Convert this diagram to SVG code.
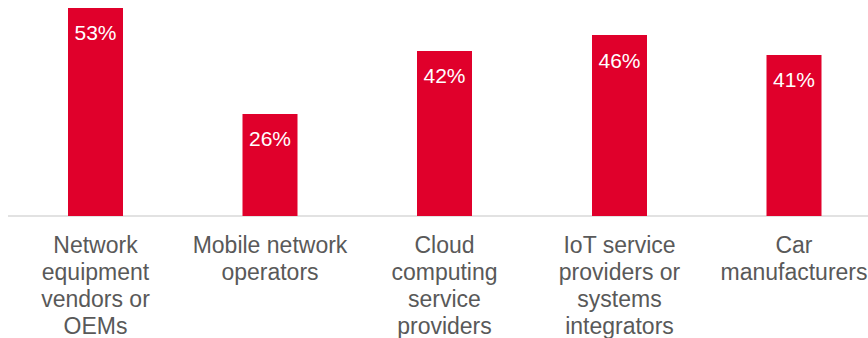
<svg xmlns="http://www.w3.org/2000/svg" width="868" height="338" viewBox="0 0 868 338">
<style>
.bar{fill:#E0002B}
.val{font-family:"Liberation Sans",Arial,sans-serif;font-size:21px;fill:#fff;text-anchor:middle}
.lab{font-family:"Liberation Sans",Arial,sans-serif;font-size:23px;fill:#595959;text-anchor:middle}
</style>
<rect width="868" height="338" fill="#fff"/>
<g id="axis"><line x1="8" y1="216" x2="868" y2="216" stroke="#D9D9D9" stroke-width="1.5"/></g>
<g id="bar1"><rect class="bar" x="68" y="8" width="55" height="208"/><text class="val" x="95.5" y="40">53%</text>
<text class="lab" x="95.5" y="253">Network</text><text class="lab" x="95.5" y="280">equipment</text><text class="lab" x="95.5" y="307">vendors or</text><text class="lab" x="95.5" y="334">OEMs</text></g>
<g id="bar2"><rect class="bar" x="242.5" y="114" width="55" height="102"/><text class="val" x="270" y="146">26%</text>
<text class="lab" x="270" y="253">Mobile network</text><text class="lab" x="270" y="280">operators</text></g>
<g id="bar3"><rect class="bar" x="417" y="51" width="55" height="165"/><text class="val" x="444.5" y="83">42%</text>
<text class="lab" x="444.5" y="253">Cloud</text><text class="lab" x="444.5" y="280">computing</text><text class="lab" x="444.5" y="307">service</text><text class="lab" x="444.5" y="334">providers</text></g>
<g id="bar4"><rect class="bar" x="592" y="35" width="55" height="181"/><text class="val" x="619.5" y="68">46%</text>
<text class="lab" x="619.5" y="253">IoT service</text><text class="lab" x="619.5" y="280">providers or</text><text class="lab" x="619.5" y="307">systems</text><text class="lab" x="619.5" y="334">integrators</text></g>
<g id="bar5"><rect class="bar" x="766.5" y="55" width="55" height="161"/><text class="val" x="794" y="87">41%</text>
<text class="lab" x="794" y="253">Car</text><text class="lab" x="794" y="280">manufacturers</text></g>
</svg>
